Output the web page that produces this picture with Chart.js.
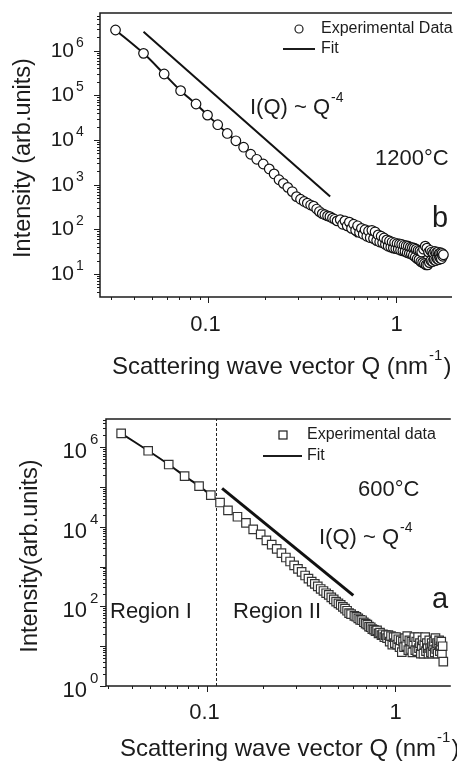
<!DOCTYPE html>
<html>
<head>
<meta charset="utf-8">
<script src="https://cdn.jsdelivr.net/npm/chart.js@4.4.0/dist/chart.umd.min.js"></script>
<style>
body { margin: 0; background: #fff; }
#wrap { position: relative; width: 457px; height: 763px; }
.box { position: absolute; left: 0; width: 457px; }
</style>
</head>
<body>
<div id="wrap">
  <div class="box" style="top:0;height:380px"><canvas id="chartB" width="457" height="380"></canvas></div>
  <div class="box" style="top:380px;height:383px"><canvas id="chartA" width="457" height="383"></canvas></div>
</div>
<script>
// panel b: 1200°C
const qB = [0.0319,0.045,0.058,0.071,0.0858,0.0988,0.112,0.126,0.14,0.154,0.168,0.181,0.196,0.211,0.224,0.238,0.251,0.265,0.28,0.295,
  0.31,0.324,0.337,0.351,0.364,0.378,0.391,0.405,0.418,0.432,0.445,0.459,0.472,0.486,
  0.505,0.52,0.535,0.55,0.565,0.58,0.595,0.61,0.625,0.64,0.655,0.67,0.685,0.70,0.715,0.73,0.745,0.76,0.775,0.79,
  0.805,0.82,0.835,0.85,0.865,0.88,0.895,0.91,0.925,0.94,0.955,0.97,0.985,1.0,1.015,1.03,1.045,1.06,1.075,1.09,
  1.105,1.12,1.135,1.15,1.165,1.18,1.195,1.21,1.225,1.24,1.255,1.27,1.285,1.30,1.315,1.33,1.345,1.36,1.375,1.39,
  1.405,1.42,1.435,1.45,1.465,1.48,1.495,1.51,1.525,1.54,1.555,1.57,1.585,1.60,1.615,1.63,1.645,1.66,1.675,1.69,
  1.705,1.72,1.735,1.75,1.765,1.78,1.795];
const iB = [2.9e6,8.7e5,3.0e5,1.27e5,6.4e4,3.6e4,2.2e4,1.4e4,9.6e3,6.9e3,4.8e3,3.7e3,2.9e3,2.25e3,1.74e3,1.29e3,1070,870,700,540,
  473,420,385,350,330,285,250,225,212,200,192,178,168,155,
  165,130,155,120,145,105,130,95,120,85,105,78,98,70,92,65,95,62,88,56,
  75,52,70,50,64,46,58,42,55,40,52,38,50,37,48,36,47,34,46,33,
  44,32,43,30,42,29,40,28,39,26,38,24,36,22,34,21,33,19,31,18,
  36,17,42,16,38,16,31,18,34,20,31,19,29,21,32,20,30,22,31,21,
  29,23,30,22,29,25,27];
const fitQB = [0.0319,0.045,0.058,0.071,0.0858,0.0988,0.126,0.154,0.196,0.251,0.31,0.38,0.47,0.55,0.62];
const fitIB = [2.9e6,8.7e5,3.0e5,1.27e5,6.4e4,3.6e4,1.4e4,6.9e3,2.9e3,1.07e3,480,270,165,105,67];
const powQB = [0.045, 0.446];
const powIB = [2.66e6, 542];

// panel a: 600°C
const qA = [0.0352,0.049,0.063,0.0765,0.0913,0.1054,0.118,0.13,0.146,0.162,0.177,0.194,
  0.208,0.222,0.236,0.25,0.264,0.278,0.292,0.306,0.32,0.334,0.348,0.362,0.376,0.39,0.404,0.418,0.432,0.446,0.46,0.474,
  0.488,0.502,0.516,0.53,0.544,0.558,0.572,0.586,
  0.61,0.625,0.64,0.655,0.67,0.685,0.70,0.715,0.73,0.745,0.76,0.775,0.79,0.805,0.82,0.835,0.85,0.865,0.88,0.895,
  0.91,0.925,0.94,0.955,0.97,0.985,1.0,1.015,1.03,1.045,1.06,1.075,1.09,1.105,1.12,1.135,1.15,1.165,1.18,1.195,
  1.21,1.225,1.24,1.255,1.27,1.285,1.30,1.315,1.33,1.345,1.36,1.375,1.39,1.405,1.42,1.435,1.45,1.465,1.48,1.495,
  1.51,1.525,1.54,1.555,1.57,1.585,1.60,1.615,1.63,1.645,1.66,1.675,1.69,1.705,1.72,1.735,1.75,1.765,1.78,1.795,1.81];
const iA = [2.25e6,8.2e5,3.7e5,1.9e5,1.06e5,6.3e4,4.1e4,2.6e4,1.8e4,1.26e4,8.7e3,6.5e3,
  4600,3600,2800,2200,1700,1350,1080,880,740,600,500,420,370,320,275,245,215,195,170,150,
  132,120,110,98,88,78,68,64,
  58,55,50,46,45,40,37,35,31,30,27,26,24,25,21,22,19,20,17,19,
  16,19,13,18,11,17,12,17,11,15,9.5,14,7.1,13,9.5,16,10,18,8,14,
  8.5,13,7,12,17,8,13,7.5,17,9,12,6.5,10,14,6.5,11,17,7.5,12,9,
  6.5,14,9,7,12,6.5,10,13,7,16,8.5,12,6.5,11,14,7.5,10,13,6.5,10,4.1];
const fitQA = [0.0352,0.049,0.063,0.0765,0.0913,0.1054,0.118];
const fitIA = [2.25e6,8.2e5,3.7e5,1.9e5,1.06e5,6.3e4,4.1e4];
const powQA = [0.121, 0.602];
const powIA = [9.3e4, 190];
const dividerQ = 0.113;

const FONT = '"Liberation Sans", Arial, sans-serif';
const INK = '#1c1c1c';

function pts(xs, ys) {
  return xs.map((x, i) => ({ x: x, y: ys[i] }));
}

function font(size) { return size + 'px ' + FONT; }

// base text + raised exponent, anchored at left x, vertical middle y
function supText(ctx, x, y, base, sup, size, supSize, rise) {
  ctx.textAlign = 'left';
  ctx.textBaseline = 'middle';
  ctx.font = font(size);
  ctx.fillText(base, x, y);
  const w = ctx.measureText(base).width;
  ctx.font = font(supSize);
  ctx.fillText(sup, x + w + 1, y - rise);
  return x + w + 1 + ctx.measureText(sup).width;
}

function logTicks(min, max) {
  const out = [];
  for (let e = Math.floor(Math.log10(min)); e <= Math.ceil(Math.log10(max)); e++) {
    for (let k = 1; k <= 9; k++) {
      const v = k * Math.pow(10, e);
      if (v >= min * 0.999 && v <= max * 1.001) out.push({ v: v, major: k === 1, e: e });
    }
  }
  return out;
}

function makePanel(id, opt) {
  const framePlugin = {
    id: 'frame',
    afterDraw(chart) {
      const ctx = chart.ctx, a = chart.chartArea;
      const xs = chart.scales.x, ys = chart.scales.y;
      ctx.save();
      ctx.strokeStyle = INK;
      ctx.fillStyle = INK;
      ctx.lineWidth = 1.5;
      ctx.beginPath();
      ctx.moveTo(a.right + 1, a.top);
      ctx.lineTo(a.left, a.top);
      ctx.lineTo(a.left, a.bottom);
      ctx.lineTo(a.right + 1, a.bottom);
      ctx.stroke();

      ctx.lineWidth = 1;
      logTicks(ys.min, ys.max).forEach(t => {
        const p = Math.round(ys.getPixelForValue(t.v)) + 0.5;
        ctx.beginPath();
        ctx.moveTo(a.left, p);
        ctx.lineTo(a.left - (t.major ? 6 : 3), p);
        ctx.stroke();
        if (t.major && opt.yExp.includes(t.e)) {
          ctx.font = font(opt.yFont);
          ctx.textAlign = 'right';
          ctx.textBaseline = 'middle';
          ctx.fillText('10', opt.yLabelRight, p + opt.yDy);
          ctx.textAlign = 'left';
          ctx.font = font(opt.ySupFont);
          ctx.fillText(String(t.e), opt.yLabelRight + opt.ySupGap, p + opt.yDy - opt.ySupRise);
        }
      });
      logTicks(xs.min, xs.max).forEach(t => {
        const p = Math.round(xs.getPixelForValue(t.v)) + 0.5;
        ctx.beginPath();
        ctx.moveTo(p, a.bottom);
        ctx.lineTo(p, a.bottom + (t.major ? 6 : 3));
        ctx.stroke();
        if (t.major) {
          ctx.font = font(opt.xFont);
          ctx.textAlign = 'center';
          ctx.textBaseline = 'middle';
          const label = t.v < 1 ? '0.1' : '1';
          ctx.fillText(label, p + (t.v < 1 ? -3 : 0), a.bottom + opt.xLabelDy);
        }
      });

      // axis titles
      ctx.save();
      ctx.translate(opt.yTitleX, opt.yTitleY);
      ctx.rotate(-Math.PI / 2);
      ctx.font = font(opt.titleFont);
      ctx.textAlign = 'center';
      ctx.textBaseline = 'middle';
      ctx.fillText(opt.yTitle, 0, 0);
      ctx.restore();
      const xEnd = supText(ctx, opt.xTitleX, opt.xTitleY, 'Scattering wave vector Q (nm', '-1', opt.xTitleFont, 15, 11);
      ctx.font = font(opt.xTitleFont);
      ctx.fillText(')', xEnd + 1, opt.xTitleY);

      // legend
      const L = opt.legend;
      ctx.lineWidth = 1.2;
      ctx.fillStyle = '#fff';
      ctx.strokeStyle = INK;
      if (opt.marker === 'circle') {
        ctx.beginPath();
        ctx.arc(L.mx, L.my, 4, 0, Math.PI * 2);
        ctx.fill(); ctx.stroke();
      } else {
        ctx.fillRect(L.mx - 4, L.my - 4, 8, 8);
        ctx.strokeRect(L.mx - 4, L.my - 4, 8, 8);
      }
      ctx.lineWidth = 2;
      ctx.beginPath();
      ctx.moveTo(L.lx0, L.fy);
      ctx.lineTo(L.lx1, L.fy);
      ctx.stroke();
      ctx.fillStyle = INK;
      ctx.font = font(16);
      ctx.textAlign = 'left';
      ctx.textBaseline = 'middle';
      ctx.fillText(L.text, L.tx, L.my);
      ctx.fillText('Fit', L.tx, L.fy);

      // annotations
      supText(ctx, opt.lawX, opt.lawY, 'I(Q) ~ Q', '-4', 22, 14, 10);
      ctx.font = font(22);
      ctx.textAlign = 'left';
      ctx.fillText(opt.temp, opt.tempX, opt.tempY);
      ctx.font = font(29);
      ctx.textBaseline = 'alphabetic';
      ctx.fillText(opt.tag, opt.tagX, opt.tagY);
      if (opt.regions) {
        ctx.font = font(22);
        ctx.textBaseline = 'middle';
        opt.regions.forEach(r => ctx.fillText(r.text, r.x, r.y));
      }
      ctx.restore();
    }
  };

  const datasets = [
    {
      data: pts(opt.q, opt.i),
      pointStyle: opt.marker,
      pointRadius: opt.marker === 'circle' ? 4.8 : 6,
      pointBackgroundColor: '#fff',
      pointBorderColor: opt.marker === 'circle' ? '#111' : '#333',
      pointBorderWidth: 1.2,
      showLine: false
    },
    {
      data: pts(opt.fitQ, opt.fitI),
      showLine: true,
      pointRadius: 0,
      borderColor: '#111',
      borderWidth: 2,
      tension: 0.3
    },
    {
      data: pts(opt.powQ, opt.powI),
      showLine: true,
      pointRadius: 0,
      borderColor: '#111',
      borderWidth: opt.powWidth
    }
  ];
  if (opt.divider) {
    datasets.push({
      data: [{ x: opt.divider, y: opt.yMin }, { x: opt.divider, y: opt.yMax }],
      showLine: true,
      pointRadius: 0,
      borderColor: '#222',
      borderWidth: 1,
      borderDash: [3, 2]
    });
  }

  return new Chart(document.getElementById(id), {
    type: 'scatter',
    data: { datasets: datasets },
    options: {
      responsive: false,
      animation: false,
      layout: { padding: { left: 0, top: opt.padTop, right: 1, bottom: 0 } },
      plugins: { legend: { display: false }, tooltip: { enabled: false } },
      scales: {
        x: {
          type: 'logarithmic',
          min: opt.xMin,
          max: opt.xMax,
          grid: { display: false },
          border: { display: false },
          ticks: { display: false },
          afterFit: s => { s.height = opt.xAxisH; }
        },
        y: {
          type: 'logarithmic',
          min: opt.yMin,
          max: opt.yMax,
          grid: { display: false },
          border: { display: false },
          ticks: { display: false },
          afterFit: s => { s.width = opt.yAxisW; }
        }
      }
    },
    plugins: [framePlugin]
  });
}

makePanel('chartB', {
  q: qB, i: iB, fitQ: fitQB, fitI: fitIB, powQ: powQB, powI: powIB, powWidth: 2,
  marker: 'circle',
  xMin: 0.02636, xMax: 1.97, yMin: 3.06, yMax: 6.96e6,
  padTop: 13, xAxisH: 83, yAxisW: 100,
  yExp: [1, 2, 3, 4, 5, 6], yFont: 21, ySupFont: 14, yLabelRight: 74, ySupGap: 2, yDy: 0, ySupRise: 8,
  xFont: 22, xLabelDy: 28,
  titleFont: 23.5, xTitleFont: 24, yTitle: 'Intensity (arb.units)', yTitleX: 24, yTitleY: 158, xTitleX: 112, xTitleY: 367,
  legend: { mx: 299, my: 29, lx0: 283, lx1: 315, fy: 49, tx: 321, text: 'Experimental Data' },
  lawX: 250, lawY: 108, temp: '1200°C', tempX: 375, tempY: 159, tag: 'b', tagX: 432, tagY: 227
});

makePanel('chartA', {
  q: qA, i: iA, fitQ: fitQA, fitI: fitIA, powQ: powQA, powI: powIA, powWidth: 3,
  marker: 'rect', divider: dividerQ,
  xMin: 0.02925, xMax: 1.96, yMin: 1, yMax: 5.16e6,
  padTop: 39, xAxisH: 77, yAxisW: 106,
  yExp: [0, 2, 4, 6], yFont: 22, ySupFont: 15, yLabelRight: 87, ySupGap: 3, yDy: 4, ySupRise: 12,
  xFont: 22, xLabelDy: 27,
  titleFont: 23.5, xTitleFont: 24, yTitle: 'Intensity(arb.units)', yTitleX: 31, yTitleY: 176, xTitleX: 120, xTitleY: 369,
  legend: { mx: 283, my: 55, lx0: 263, lx1: 302, fy: 76, tx: 307, text: 'Experimental data' },
  lawX: 319, lawY: 158, temp: '600°C', tempX: 358, tempY: 110, tag: 'a', tagX: 432, tagY: 228,
  regions: [{ text: 'Region I', x: 110, y: 232 }, { text: 'Region II', x: 233, y: 232 }]
});
</script>
</body>
</html>
